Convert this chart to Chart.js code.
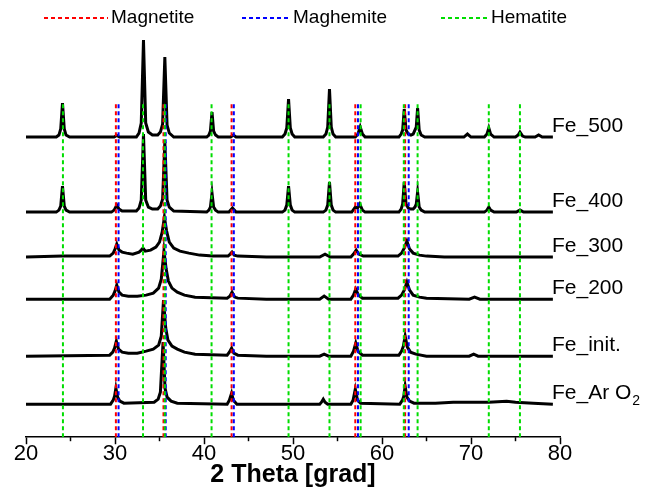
<!DOCTYPE html>
<html>
<head>
<meta charset="utf-8">
<script src="https://cdn.jsdelivr.net/npm/chart.js@4.4.1/dist/chart.umd.min.js"></script>
<style>
  body { margin: 0; background: #fff; }
  canvas { display: block; }
</style>
</head>
<body>
<canvas id="xrdChart" width="645" height="489"></canvas>
<script>
// Eixo x (2 Theta)
const xTicks = [20, 30, 40, 50, 60, 70, 80];
const xMinorTicks = [25, 35, 45, 55, 65, 75];

// Nomes das amostras e deslocamento vertical de cada curva
const sampleNames = ['Fe_500', 'Fe_400', 'Fe_300', 'Fe_200', 'Fe_init.', 'Fe_Ar O2'];
const sampleOffsets = [300, 225, 180, 138, 81, 33];

// Curvas de DRX: [2theta, intensidade acima da linha de base]
const fe500 = [
  [20, 0], [23.4, 0], [23.7, 2], [23.9, 8], [24.1, 34], [24.3, 8], [24.5, 2], [24.9, 0],
  [29.9, 0], [30.2, 1.5], [30.5, 0],
  [32.4, 0], [32.7, 4], [32.95, 14], [33.2, 97], [33.45, 14], [33.75, 5], [34.2, 2],
  [34.8, 2], [35.1, 5], [35.35, 13], [35.6, 80], [35.85, 12], [36.1, 4], [36.6, 0],
  [40.3, 0], [40.55, 2], [40.72, 6], [40.9, 25], [41.08, 6], [41.3, 2], [41.6, 0],
  [43.0, 0], [43.3, 2], [43.6, 0],
  [48.8, 0], [49.1, 3], [49.3, 9], [49.5, 38], [49.7, 9], [49.9, 3], [50.2, 0],
  [53.4, 0], [53.7, 3], [53.9, 10], [54.1, 48], [54.3, 10], [54.5, 3], [54.8, 0],
  [57.0, 0], [57.3, 3], [57.55, 10], [57.8, 3], [58.1, 0],
  [61.9, 0], [62.15, 3], [62.32, 7], [62.5, 28], [62.7, 7], [62.95, 3], [63.25, 2],
  [63.5, 3], [63.7, 7], [63.85, 10], [64.0, 29], [64.18, 7], [64.4, 2], [64.8, 0],
  [69.2, 0], [69.6, 3], [70.0, 0],
  [71.5, 0], [71.8, 3], [72.0, 9], [72.2, 3], [72.6, 0],
  [75.0, 0], [75.3, 2], [75.5, 5], [75.8, 1], [76.1, 0],
  [77.2, 0], [77.6, 2], [78.0, 0], [79.2, 0]
];
const fe400 = [
  [20, 0], [23.4, 0], [23.7, 2], [23.9, 6], [24.1, 26], [24.3, 6], [24.5, 2], [24.9, 0],
  [29.6, 0], [29.9, 2], [30.2, 7], [30.45, 3], [30.8, 1],
  [32.4, 1], [32.7, 4], [32.95, 12], [33.2, 78], [33.45, 12], [33.75, 5], [34.2, 3],
  [34.8, 3], [35.1, 6], [35.35, 13], [35.6, 70], [35.85, 12], [36.1, 5], [36.6, 1],
  [40.3, 0], [40.55, 2], [40.72, 5], [40.9, 19], [41.08, 5], [41.3, 2], [41.6, 0],
  [42.8, 0], [43.2, 4], [43.6, 0],
  [48.8, 0], [49.1, 2], [49.3, 7], [49.5, 26], [49.7, 7], [49.9, 2], [50.2, 0],
  [53.4, 0], [53.7, 2], [53.9, 7], [54.1, 30], [54.3, 7], [54.5, 2], [54.8, 0],
  [56.6, 0], [57.0, 5], [57.25, 4], [57.5, 8], [57.8, 2], [58.1, 0],
  [61.9, 0], [62.15, 3], [62.32, 8], [62.5, 30], [62.7, 8], [62.95, 4], [63.25, 3],
  [63.5, 3], [63.7, 5], [63.85, 8], [64.0, 20], [64.18, 5], [64.4, 2], [64.8, 0],
  [71.5, 0], [71.8, 2], [72.0, 5], [72.2, 2], [72.6, 0],
  [75.1, 0], [75.5, 2], [75.9, 0], [79.2, 0]
];
const fe300 = [
  [20, 0], [24.1, 1], [29.4, 1], [29.8, 4], [30.0, 8], [30.2, 13], [30.45, 7], [30.8, 5], [31.3, 4],
  [32.0, 3], [32.7, 5], [32.95, 7], [33.15, 9], [33.4, 6], [34.0, 7], [34.6, 10], [35.0, 15], [35.3, 25],
  [35.55, 40], [35.8, 26], [36.1, 15], [36.6, 9], [37.3, 6], [38.3, 4], [39.5, 2], [41, 1],
  [42.7, 1], [42.95, 3], [43.15, 5], [43.4, 2], [43.8, 1], [47, 0], [53.0, 0], [53.6, 3], [54.2, 0],
  [56.5, 0], [56.8, 3], [57.1, 7], [57.4, 3], [57.9, 1], [61.8, 1], [62.2, 4], [62.5, 9],
  [62.8, 16], [63.1, 8], [63.5, 4], [64.2, 2], [65.0, 1], [67, 0], [79.2, 0]
];
const fe200 = [
  [20, 0], [29.4, 0], [29.8, 4], [30.0, 8], [30.2, 14], [30.45, 7], [30.8, 4], [31.5, 3], [32.5, 3],
  [33.5, 4], [34.3, 6], [34.9, 11], [35.2, 20], [35.5, 48], [35.75, 30], [36.0, 18], [36.4, 11],
  [37.0, 7], [37.8, 4], [39, 2], [42.6, 1], [42.9, 3], [43.15, 7], [43.45, 2], [43.8, 1], [47, 0],
  [53.0, 0], [53.5, 3], [54.0, 0], [56.5, 0], [56.8, 4], [57.05, 10], [57.35, 4], [57.8, 1],
  [61.8, 1], [62.2, 4], [62.5, 9], [62.8, 17], [63.1, 9], [63.5, 4], [64.2, 2], [65, 1],
  [69.8, 0], [70.4, 2], [71.0, 0], [79.2, 0]
];
const feInit = [
  [20, 0], [29.4, 1], [29.75, 4], [29.95, 8], [30.15, 15], [30.4, 7], [30.8, 4], [31.5, 3], [32.5, 3],
  [33.5, 5], [34.3, 7], [34.9, 11], [35.2, 20], [35.45, 56], [35.7, 28], [35.95, 16], [36.4, 10],
  [37.0, 7], [37.8, 4], [39, 2], [42.6, 1], [42.85, 4], [43.1, 8], [43.35, 3], [43.8, 1], [47, 0],
  [53.0, 0], [53.5, 2], [54.0, 0], [56.5, 0], [56.8, 5], [57.05, 13], [57.3, 5], [57.8, 1],
  [61.9, 1], [62.2, 5], [62.4, 10], [62.6, 20], [62.85, 9], [63.2, 4], [63.8, 2], [65, 0],
  [69.8, 0], [70.3, 2], [70.8, 0], [79.2, 0]
];
const feArO2 = [
  [20, 0], [29.5, 0], [29.8, 4], [29.95, 8], [30.1, 16], [30.3, 7], [30.55, 3], [31.0, 1],
  [34.4, 2], [34.85, 5], [35.1, 12], [35.4, 62], [35.62, 16], [35.85, 7], [36.3, 3], [37, 1],
  [42.6, 0], [42.85, 4], [43.1, 11], [43.3, 4], [43.7, 0], [53.0, 0], [53.2, 2], [53.4, 5], [53.6, 2], [53.9, 0],
  [56.5, 0], [56.75, 4], [57.0, 15], [57.25, 4], [57.6, 1], [62.0, 0], [62.3, 4], [62.45, 8],
  [62.6, 18], [62.8, 7], [63.1, 3], [63.6, 1], [66, 1], [68, 2], [72, 2], [74, 3], [75, 2], [77, 1], [79.2, 0]
];
const samples = [fe500, fe400, fe300, fe200, feInit, feArO2];

// Posições de referência das fases (2 Theta)
const magnetiteLines = [30.1, 35.45, 43.1, 57.0, 62.6];
const maghemiteLines = [30.4, 35.7, 43.35, 57.3, 63.0];
const hematiteLines = [24.15, 33.15, 35.6, 40.85, 49.5, 54.1, 57.6, 62.45, 64.0, 72.0, 75.5];
const refLineTop = 334; // altura das linhas tracejadas

const phaseNames = ['Magnetite', 'Maghemite', 'Hematite'];
const phaseColors = ['#ff0000', '#0000ff', '#00dd00'];

const FONT = "'Liberation Sans', Arial, sans-serif";

// Monta os datasets
const datasets = [];
[hematiteLines, maghemiteLines, magnetiteLines].forEach((lines, idx) => {
  const color = [phaseColors[2], phaseColors[1], phaseColors[0]][idx];
  lines.forEach(x => {
    datasets.push({
      data: [{ x: x, y: 0 }, { x: x, y: refLineTop }],
      borderColor: color,
      borderWidth: 2,
      borderDash: [4, 3],
      pointRadius: 0,
      order: 1
    });
  });
});
samples.forEach((pts, i) => {
  datasets.push({
    label: sampleNames[i],
    data: pts.map(p => ({ x: p[0], y: p[1] + sampleOffsets[i] })),
    borderColor: '#000',
    borderWidth: 3,
    pointRadius: 0,
    tension: 0,
    order: 2
  });
});

// Legenda de fases e nomes das amostras desenhados à mão
const extrasPlugin = {
  id: 'extras',
  afterDraw(chart) {
    const ctx = chart.ctx;
    const xs = chart.scales.x;
    const ys = chart.scales.y;
    ctx.save();

    // ticks menores
    ctx.strokeStyle = '#000';
    ctx.lineWidth = 1.5;
    xMinorTicks.forEach(v => {
      const px = xs.getPixelForValue(v);
      ctx.beginPath();
      ctx.moveTo(px, chart.chartArea.bottom);
      ctx.lineTo(px, chart.chartArea.bottom + 4);
      ctx.stroke();
    });

    // legenda
    const legendPos = [[44, 108], [242, 290], [441, 488]];
    ctx.font = '19px ' + FONT;
    ctx.textBaseline = 'middle';
    ctx.textAlign = 'left';
    phaseNames.forEach((name, i) => {
      const y = 18;
      ctx.strokeStyle = phaseColors[i];
      ctx.lineWidth = 2;
      ctx.setLineDash([4, 3]);
      ctx.beginPath();
      ctx.moveTo(legendPos[i][0], y);
      ctx.lineTo(legendPos[i][1], y);
      ctx.stroke();
      ctx.setLineDash([]);
      ctx.fillStyle = '#000';
      ctx.fillText(name, legendPos[i][1] + 3, y);
    });

    // nomes das amostras
    ctx.fillStyle = '#000';
    const lx = chart.chartArea.right - 8;
    sampleNames.forEach((name, i) => {
      const y = ys.getPixelForValue(sampleOffsets[i] + 11);
      ctx.font = '21px ' + FONT;
      if (name === 'Fe_Ar O2') {
        const main = 'Fe_Ar O';
        ctx.fillText(main, lx, y);
        const w = ctx.measureText(main).width;
        ctx.font = '14px ' + FONT;
        ctx.fillText('2', lx + w + 1, y + 8);
      } else {
        ctx.fillText(name, lx, y);
      }
    });
    ctx.restore();
  }
};

new Chart(document.getElementById('xrdChart'), {
  type: 'line',
  data: { datasets: datasets },
  options: {
    responsive: false,
    animation: false,
    layout: { padding: { left: 26, right: 85, top: 30, bottom: 2 } },
    plugins: {
      legend: { display: false },
      tooltip: { enabled: false }
    },
    scales: {
      x: {
        type: 'linear',
        min: 20,
        max: 80,
        afterBuildTicks: axis => { axis.ticks = xTicks.map(v => ({ value: v })); },
        ticks: {
          color: '#000',
          padding: 0,
          font: { family: FONT, size: 22, lineHeight: 0.9 }
        },
        grid: {
          drawOnChartArea: false,
          color: '#000',
          tickLength: 7,
          tickWidth: 1.5
        },
        border: { color: '#000', width: 1.5 },
        title: {
          display: true,
          text: '2 Theta [grad]',
          color: '#000',
          padding: { top: 0, bottom: 0 },
          font: { family: FONT, size: 25, weight: 'bold', lineHeight: 0.92 }
        }
      },
      y: {
        display: false,
        min: 0,
        max: 407
      }
    }
  },
  plugins: [extrasPlugin]
});
</script>
</body>
</html>
